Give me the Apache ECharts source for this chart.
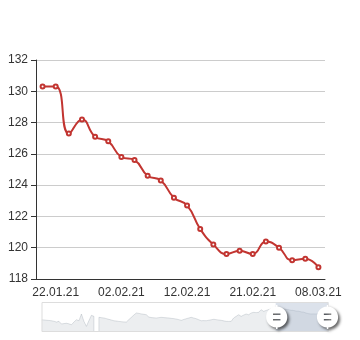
<!DOCTYPE html>
<html>
<head>
<meta charset="utf-8">
<script src="https://cdn.jsdelivr.net/npm/echarts@6/dist/echarts.min.js"></script>
<style>
html,body{margin:0;padding:0;background:#fff;}
#main{width:360px;height:340px;}
</style>
</head>
<body>
<div id="main"></div>
<script>
// Category dates (full history; the chart shows the last window)
var dates = [
 '16.07.20','18.07.20','20.07.20','22.07.20','24.07.20','26.07.20','28.07.20','30.07.20',
 '01.08.20','03.08.20','05.08.20','07.08.20','09.08.20','11.08.20','13.08.20','15.08.20',
 '17.08.20','19.08.20','21.08.20','23.08.20','25.08.20','27.08.20','29.08.20','31.08.20',
 '02.09.20','04.09.20','06.09.20','08.09.20','10.09.20','12.09.20','14.09.20','16.09.20',
 '18.09.20','20.09.20','22.09.20','24.09.20','26.09.20','28.09.20','30.09.20',
 '02.10.20','04.10.20','06.10.20','08.10.20','10.10.20','12.10.20','14.10.20','16.10.20',
 '18.10.20','20.10.20','22.10.20','24.10.20','26.10.20','28.10.20','30.10.20',
 '01.11.20','03.11.20','05.11.20','07.11.20','09.11.20','11.11.20','13.11.20','15.11.20',
 '17.11.20','19.11.20','21.11.20','23.11.20','25.11.20','27.11.20','29.11.20',
 '01.12.20','03.12.20','05.12.20','07.12.20','09.12.20','11.12.20','13.12.20','15.12.20',
 '17.12.20','19.12.20','21.12.20','23.12.20','25.12.20','27.12.20','29.12.20','31.12.20',
 '02.01.21','04.01.21','06.01.21','08.01.21','10.01.21','12.01.21','14.01.21','16.01.21','18.01.21',
 '20.01.21','22.01.21','25.01.21','27.01.21','28.01.21','31.01.21',
 '02.02.21','04.02.21','06.02.21','08.02.21','10.02.21',
 '12.02.21','14.02.21','15.02.21','17.02.21','19.02.21',
 '21.02.21','24.02.21','27.02.21','02.03.21','05.03.21','08.03.21'
];
// Earlier history (seen only in the slider shadow)
var historyValues = [
 110.0,109.6,109.1,108.7,108.3,107.4,106.1,107.3,102.8,103.5,
 104.0,103.1,101.6,106.1,110.0,108.3,119.6,107.3,98.8,108.5,
 117.4,115.7,null,114.0,113.5,112.9,111.8,110.6,109.5,108.3,
 107.8,107.2,106.7,106.3,106.1,110.2,114.0,117.8,121.3,120.6,
 119.8,119.1,118.4,114.5,113.6,113.2,112.9,113.5,114.0,113.6,
 113.2,112.9,112.3,111.8,111.2,110.1,109.0,110.4,111.7,112.9,
 114.0,112.8,111.7,110.0,108.3,108.5,108.3,109.1,109.9,110.7,
 110.1,109.5,109.0,108.1,107.3,107.1,107.3,112.9,115.7,118.4,
 115.7,117.8,119.6,118.4,121.3,122.4,121.9,122.4,126.8,124.1,
 125.5,127.0,128.2,129.4
];
// Visible window values
var windowValues = [
 130.3,130.3,127.3,128.2,127.1,126.8,125.8,125.6,124.6,124.3,
 123.2,122.7,121.2,120.2,119.6,119.8,119.6,120.4,120.0,119.2,
 119.3,118.75
];
var values = historyValues.concat(windowValues);
var yMin = 118, yMax = 132, yStep = 2;

var chart = echarts.init(document.getElementById('main'), null, {renderer:'canvas'});
chart.setOption({
  animation: false,
  textStyle: {fontFamily: 'sans-serif'},
  grid: {left: 36, right: 35, top: 60, bottom: 61, containLabel: false, outerBoundsMode: 'none'},
  xAxis: {
    type: 'category',
    data: dates,
    boundaryGap: true,
    axisLine: {lineStyle: {color: '#333'}},
    axisTick: {lineStyle: {color: '#333'}},
    axisLabel: {interval: 4, color: '#333', fontSize: 12, margin: 8}
  },
  yAxis: {
    type: 'value',
    min: yMin, max: yMax, interval: yStep,
    axisLine: {show: true, lineStyle: {color: '#333'}},
    axisTick: {show: true, lineStyle: {color: '#333'}},
    axisLabel: {color: '#333', fontSize: 12, margin: 8},
    splitLine: {lineStyle: {color: '#ccc'}}
  },
  dataZoom: [{
    type: 'slider',
    xAxisIndex: 0,
    start: 81.6, end: 100,
    left: 39, right: 34, top: 302, height: 30,
    filterMode: 'filter',
    showDetail: false,
    brushSelect: false,
    moveHandleSize: 0,
    borderColor: '#ddd',
    backgroundColor: 'rgba(47,69,84,0)',
    fillerColor: 'rgba(167,183,204,0.4)',
    dataBackground: {
      lineStyle: {color: '#2f4554', width: 0.5, opacity: 0.3},
      areaStyle: {color: 'rgba(47,69,84,0.3)', opacity: 0.3}
    },
    selectedDataBackground: {
      lineStyle: {color: '#2f4554', width: 0.5, opacity: 0.3},
      areaStyle: {color: 'rgba(47,69,84,0.3)', opacity: 0.3}
    },
    handleIcon: 'path://M10.7,11.9v-1.3H9.3v1.3c-4.9,0.3-8.8,4.4-8.8,9.4c0,5,3.9,9.1,8.8,9.4v1.3h1.3v-1.3c4.9-0.3,8.8-4.4,8.8-9.4C19.5,16.3,15.6,12.2,10.7,11.9z M13.3,24.4H6.7V23h6.6V24.4z M13.3,19.6H6.7v-1.4h6.6V19.6z',
    handleSize: '80%',
    handleStyle: {
      color: '#fff', borderColor: '#aaa', borderWidth: 0,
      shadowBlur: 3, shadowColor: 'rgba(0,0,0,0.6)', shadowOffsetX: 2, shadowOffsetY: 2
    }
  }],
  series: [{
    type: 'line',
    data: values,
    smooth: true,
    symbol: 'emptyCircle',
    symbolSize: 4,
    showSymbol: true,
    showAllSymbol: true,
    color: '#c23531',
    lineStyle: {width: 2, color: '#c23531'},
    itemStyle: {color: '#c23531', borderColor: '#c23531', borderWidth: 1}
  }]
});
</script>
</body>
</html>
